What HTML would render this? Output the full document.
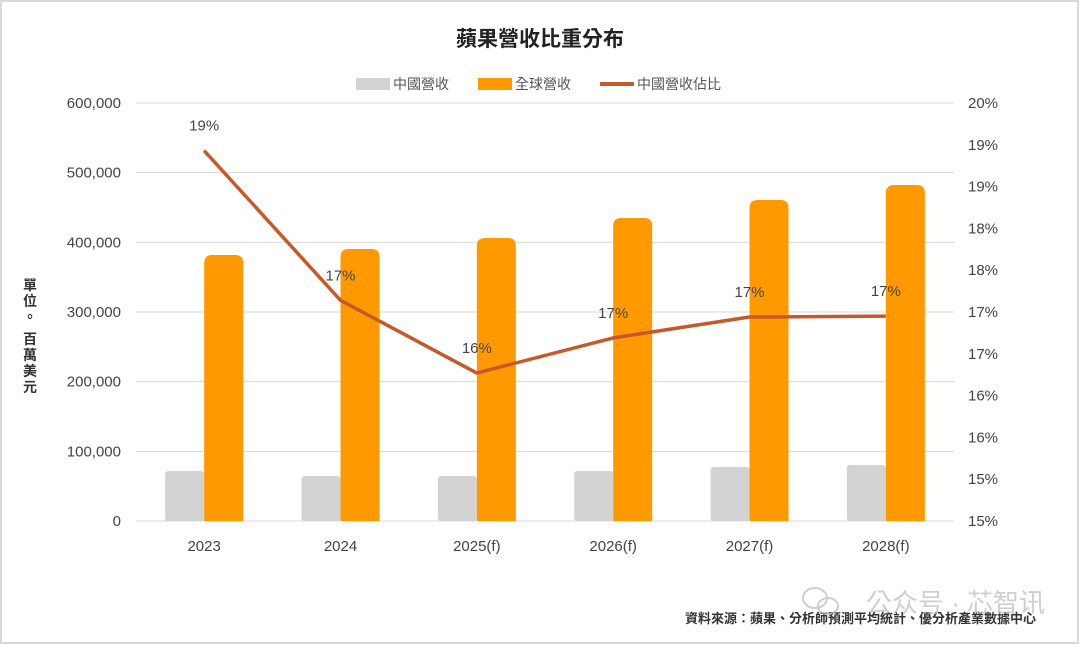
<!DOCTYPE html>
<html><head><meta charset="utf-8">
<style>
body{margin:0;background:#fff;}
svg{display:block;font-family:"Liberation Sans","Noto Sans CJK TC",sans-serif;}
</style></head>
<body>
<svg id="c" width="1080" height="645">
<rect x="1" y="1" width="1077" height="642" fill="#fff" stroke="#d9d9d9" stroke-width="2"/>
<text x="540" y="46" text-anchor="middle" font-size="21" font-weight="bold" fill="#222">蘋果營收比重分布</text>
<g>
<g><rect x="356" y="78" width="34" height="12" fill="#d3d3d3"/><text x="393" y="89" font-size="14" fill="#555">中國營收</text></g>
<g><rect x="478" y="78" width="34" height="12" fill="#ff9900"/><text x="515" y="89" font-size="14" fill="#555">全球營收</text></g>
<g><line x1="600" y1="84" x2="634" y2="84" stroke="#c55a28" stroke-width="4"/><text x="637" y="89" font-size="14" fill="#555">中國營收佔比</text></g>
</g>
<g font-size="14" font-weight="bold" fill="#333">
<text x="30" y="290" text-anchor="middle">單</text><text x="30" y="306" text-anchor="middle">位</text><text x="30" y="322" text-anchor="middle">。</text>
<text x="30" y="344" text-anchor="middle">百</text><text x="30" y="360" text-anchor="middle">萬</text><text x="30" y="376" text-anchor="middle">美</text><text x="30" y="392" text-anchor="middle">元</text>
</g>
<g id="grid"></g><g id="bars"></g><g id="line"></g><g id="axes"></g>
<text x="1036" y="623" text-anchor="end" font-size="13" font-weight="bold" fill="#333">資料來源：蘋果、分析師預測平均統計、優分析產業數據中心</text>
<g opacity="0.7">
<ellipse cx="815" cy="598" rx="12" ry="10" fill="none" stroke="#bbb" stroke-width="2"/>
<ellipse cx="828" cy="606" rx="10" ry="8" fill="none" stroke="#bbb" stroke-width="2"/>
<text x="1045" y="612" text-anchor="end" font-size="26" fill="#bbb">公众号 · 芯智讯</text>
</g>
</svg>
<script>
const categories=["2023","2024","2025(f)","2026(f)","2027(f)","2028(f)"];
const chinaRevenue=[71800,64600,64600,71800,77500,80400];
const globalRevenue=[381800,390400,406200,434900,460700,482300];
const chinaShare=[19.43,17.64,16.77,17.19,17.44,17.45];
const shareLabels=["19%","17%","16%","17%","17%","17%"];
const leftTicks=[0,100000,200000,300000,400000,500000,600000];
const rightTicks=[15,15.5,16,16.5,17,17.5,18,18.5,19,19.5,20];
const rightTickLabels=["15%","15%","16%","16%","17%","17%","18%","18%","19%","19%","20%"];
const NS="http://www.w3.org/2000/svg";
const x0=136,x1=954,yB=521,yT=103;
const yL=v=>yB-(v/600000)*(yB-yT);
const yR=v=>yB-((v-15)/5)*(yB-yT);
const step=(x1-x0)/categories.length;
const xc=i=>x0+step*(i+0.5);
function mk(t,a,p){const e=document.createElementNS(NS,t);for(const k in a)e.setAttribute(k,a[k]);p.appendChild(e);return e;}
const grid=document.getElementById('grid'),bars=document.getElementById('bars'),line=document.getElementById('line'),axes=document.getElementById('axes');
leftTicks.forEach(v=>{
 const g=mk('line',{x1:x0,x2:x1,y1:yL(v),y2:yL(v),stroke:'#d9d9d9','stroke-width':1},grid);
 
 
 const t=mk('text',{x:121,y:yL(v)+5,'text-anchor':'end','font-size':15,fill:'#444'},axes);
 t.textContent=v.toLocaleString('en-US');
 
 
});
rightTicks.forEach((v,i)=>{
 const t=mk('text',{x:968,y:yR(v)+5,'font-size':15,fill:'#444'},axes);
 t.textContent=rightTickLabels[i];
 
 
});
categories.forEach((c,i)=>{
 const t=mk('text',{x:xc(i),y:551,'text-anchor':'middle','font-size':15,fill:'#444'},axes);
 t.textContent=c;
 
 
 const bw=39;
 const b1=mk('rect',{x:xc(i)-bw,y:yL(chinaRevenue[i]),width:bw,height:yB-yL(chinaRevenue[i]),fill:'#d3d3d3',rx:3},bars);
 
 
 const top=yL(globalRevenue[i]),r=8;
 const b2=mk('path',{d:`M${xc(i)} ${yB}V${top+r}Q${xc(i)} ${top} ${xc(i)+r} ${top}H${xc(i)+bw-r}Q${xc(i)+bw} ${top} ${xc(i)+bw} ${top+r}V${yB}Z`,fill:'#ff9900'},bars);
 
 
});
const pts=chinaShare.map((v,i)=>xc(i)+','+yR(v)).join(' ');
const pl=mk('polyline',{points:pts,fill:'none',stroke:'#c55a28','stroke-width':3.5,'stroke-linejoin':'round'},line);


chinaShare.forEach((v,i)=>{
 const t=mk('text',{x:xc(i),y:yR(v)-20,'text-anchor':'middle','font-size':15,fill:'#444'},line);
 t.textContent=shareLabels[i];
 
 
});
</script>
</body></html>
